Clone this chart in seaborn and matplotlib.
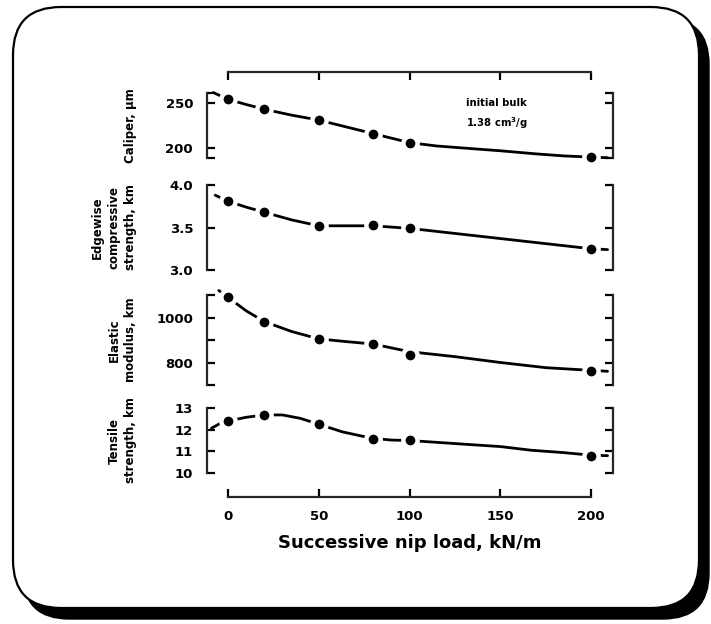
import matplotlib
matplotlib.use("Agg")
import matplotlib.pyplot as plt
import seaborn as sns
from matplotlib.patches import FancyBboxPatch
from matplotlib.transforms import IdentityTransform

sns.set_theme(style="ticks")
plt.rcParams["font.family"] = ["DejaVu Sans"]
plt.rcParams["font.weight"] = "bold"

# measured properties versus successive nip load (kN/m)
nip_load = [0, 20, 50, 80, 100, 200]
caliper = [254, 243, 231, 216, 206, 190]
compressive = [3.81, 3.68, 3.52, 3.53, 3.49, 3.25]
modulus = [1090, 982, 905, 883, 834, 764]
tensile = [12.40, 12.69, 12.25, 11.58, 11.53, 10.80]

# hand-drawn trend curves through each data set
caliper_curve_x = [-8, 0, 10, 20, 35, 50, 65, 80, 100, 115, 130, 150, 170, 185, 200, 209]
caliper_curve_y = [261.5, 254, 248.3, 243, 236.5, 231, 223.5, 216, 206, 202.3, 200, 197,
                   193.5, 191.3, 190, 189.3]
compressive_curve_x = [-7, 0, 10, 20, 35, 50, 65, 80, 100, 125, 150, 175, 200, 209]
compressive_curve_y = [3.88, 3.81, 3.74, 3.68, 3.59, 3.52, 3.52, 3.52, 3.49, 3.43, 3.37,
                       3.31, 3.25, 3.24]
modulus_curve_x = [-5, 0, 10, 20, 35, 50, 65, 80, 100, 125, 150, 175, 200, 209]
modulus_curve_y = [1120, 1090, 1030, 982, 938, 905, 893, 882, 848, 826, 800, 777, 765, 761]
tensile_curve_x = [-9, -4, 0, 10, 20, 30, 40, 50, 63, 75, 80, 90, 100, 130, 150, 167, 185,
                   200, 209]
tensile_curve_y = [12.07, 12.30, 12.40, 12.57, 12.68, 12.68, 12.52, 12.25, 11.90, 11.68,
                   11.60, 11.52, 11.50, 11.33, 11.22, 11.05, 10.94, 10.82, 10.80]

x_ticks = [0, 50, 100, 150, 200]
panel_labels = ["Caliper, μm", "Edgewise\ncompressive\nstrength, km",
                "Elastic\nmodulus, km", "Tensile\nstrength, km"]
panel_ticks = [[189, 200, 250, 261], [3.0, 3.5, 4.0], [700, 800, 900, 1000, 1100],
               [10, 11, 12, 13]]
panel_ticklabels = [["", "200", "250", ""], ["3.0", "3.5", "4.0"],
                    ["", "800", "", "1000", ""], ["10", "11", "12", "13"]]
panel_limits = [(189, 261), (3.0, 4.0), (700, 1100), (10, 13)]

W, H = 711, 624
fig = plt.figure(figsize=(W / 100, H / 100), dpi=100)
fig.patch.set_facecolor("white")

# rounded card with a heavy drop shadow
shadow = FancyBboxPatch((23, 5), 686, 601, boxstyle="round,pad=0,rounding_size=46",
                        transform=IdentityTransform(), facecolor="black",
                        edgecolor="black", zorder=-10)
card = FancyBboxPatch((13, 16), 686, 601, boxstyle="round,pad=0,rounding_size=48",
                      transform=IdentityTransform(), facecolor="white",
                      edgecolor="black", linewidth=1.6, zorder=-9)
fig.add_artist(shadow)
fig.add_artist(card)

XLIM = (-11.5, 212)
left_px, right_px = 207, 613


def fig_rect(top_px, bottom_px):
    return [left_px / W, 1 - bottom_px / H, (right_px - left_px) / W,
            (bottom_px - top_px) / H]


# shared x scale: bracketed axis on top and bottom
ax_x = fig.add_axes(fig_rect(72, 497))
ax_x.set_facecolor("none")
ax_x.set_xlim(*XLIM)
ax_x.set_ylim(0, 1)
for side in ("left", "right"):
    ax_x.spines[side].set_visible(False)
for side in ("top", "bottom"):
    ax_x.spines[side].set_visible(True)
    ax_x.spines[side].set_linewidth(1.6)
    ax_x.spines[side].set_bounds(0, 200)
ax_x.set_yticks([])
ax_x.set_xticks(x_ticks)
ax_x.set_xticklabels([str(t) for t in x_ticks])
ax_x.tick_params(axis="x", direction="in", top=True, bottom=True, length=6, width=1.6,
                 labelsize=9.5, pad=9, colors="black")
ax_x.set_xlabel("Successive nip load, kN/m", fontsize=13, fontweight="bold",
                labelpad=8, color="black")

panel_rects = [(93, 158), (185, 270), (295, 385), (408, 473)]
values = [caliper, compressive, modulus, tensile]
curves = [(caliper_curve_x, caliper_curve_y), (compressive_curve_x, compressive_curve_y),
          (modulus_curve_x, modulus_curve_y), (tensile_curve_x, tensile_curve_y)]

for i, (top, bot) in enumerate(panel_rects):
    ax = fig.add_axes(fig_rect(top, bot))
    ax.set_facecolor("none")
    cx, cy = curves[i]
    sns.lineplot(x=cx, y=cy, ax=ax, color="black", linewidth=2.0, sort=False,
                 estimator=None)
    sns.scatterplot(x=nip_load, y=values[i], ax=ax, color="black", s=105,
                    edgecolor="white", linewidth=3.2, zorder=3)
    for art in ax.lines + ax.collections:
        art.set_clip_on(False)
    ax.set_xlim(*XLIM)
    ax.set_ylim(*panel_limits[i])
    ax.set_xticks([])
    ax.set_yticks(panel_ticks[i])
    ax.set_yticklabels(panel_ticklabels[i])
    for side in ("top", "bottom"):
        ax.spines[side].set_visible(False)
    for side in ("left", "right"):
        ax.spines[side].set_visible(True)
        ax.spines[side].set_linewidth(1.6)
    ax.tick_params(axis="y", direction="in", left=True, right=True, length=6, width=1.6,
                   labelsize=9.5, pad=10, colors="black")
    ax.set_ylabel(panel_labels[i], fontsize=8.5, fontweight="bold", linespacing=1.35,
                  color="black")
    ax.yaxis.set_label_coords(-0.172, 0.5)
    if i == 0:
        ax.text(148, 250, "initial bulk", fontsize=7.2, fontweight="bold",
                ha="center", va="center", color="black")
        ax.text(148, 228, "1.38 cm$^3$/g", fontsize=7.2, fontweight="bold",
                ha="center", va="center", color="black")

fig.savefig("out.png", dpi=100, facecolor="white")
